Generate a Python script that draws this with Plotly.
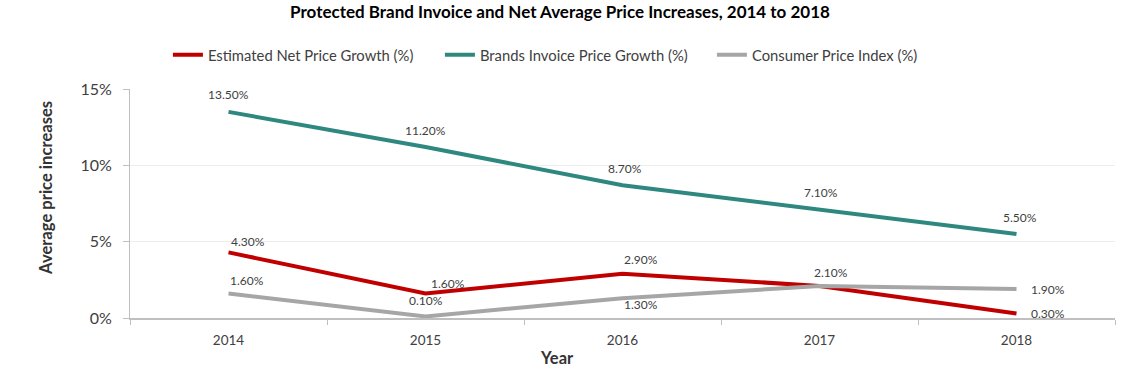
import plotly.graph_objects as go

years = ["2014", "2015", "2016", "2017", "2018"]
net_price = [4.3, 1.6, 2.9, 2.1, 0.3]
invoice_price = [13.5, 11.2, 8.7, 7.1, 5.5]
cpi = [1.6, 0.1, 1.3, 2.1, 1.9]
y_ticks = [0, 5, 10, 15]
y_tick_labels = ["0%", "5%", "10%", "15%"]

FONT = "Lato"
TXT = "#404040"

series = [
    dict(name="Estimated Net Price Growth (%)", y=net_price, color="#C00000",
         shifts=[(19, 11), (22, 10), (18, 14), (11, 13), (31, 0)],
         show=[True, True, True, True, True]),
    dict(name="Brands Invoice Price Growth (%)", y=invoice_price, color="#2E8880",
         shifts=[(0, 17), (0, 17), (2, 17), (1, 17), (3, 17)],
         show=[True, True, True, True, True]),
    dict(name="Consumer Price Index (%)", y=cpi, color="#A6A6A6",
         shifts=[(18, 13), (0, 16), (18, -6), (11, 13), (31, -1)],
         show=[True, True, True, False, True]),
]

fig = go.Figure()
annotations = []
for s in series:
    fig.add_trace(go.Scatter(x=years, y=s["y"], mode="lines", name=s["name"],
                             line=dict(color=s["color"], width=4),
                             hoverinfo="skip"))
    for i, (yv, (dx, dy), sh) in enumerate(zip(s["y"], s["shifts"], s["show"])):
        if not sh:
            continue
        annotations.append(dict(x=i, y=yv, xref="x", yref="y",
                                text=f"{yv:.2f}%", showarrow=False,
                                xshift=dx, yshift=dy,
                                font=dict(family=FONT, size=12, color=TXT)))

annotations.append(dict(text="<b>Average price increases</b>", xref="paper", yref="paper",
                        x=-0.0853, y=0.568, xanchor="center", yanchor="middle",
                        textangle=-90, showarrow=False,
                        font=dict(family=FONT, size=16.6, color="#333333")))
annotations.append(dict(text="<b>Year</b>", xref="paper", yref="paper",
                        x=0.4335, y=-0.1747, xanchor="center", yanchor="middle",
                        showarrow=False,
                        font=dict(family=FONT, size=16.5, color="#333333")))

fig.update_layout(
    width=1132, height=373,
    margin=dict(l=130, r=17, t=89, b=55, autoexpand=False),
    paper_bgcolor="white", plot_bgcolor="white",
    title=dict(text="<b>Protected Brand Invoice and Net Average Price Increases, 2014 to 2018</b>",
               x=560 / 1132, xref="container", xanchor="center", y=1 - 12 / 373, yanchor="middle",
               font=dict(family=FONT, size=17, color="black")),
    legend=dict(orientation="h", x=0.0385, xanchor="left", y=1.148, yanchor="middle",
                font=dict(family=FONT, size=14.8, color=TXT),
                entrywidth=227, entrywidthmode="pixels", itemwidth=30,
                bgcolor="rgba(0,0,0,0)"),
    font=dict(family=FONT, color=TXT),
    annotations=annotations,
    showlegend=True,
)
fig.update_xaxes(type="category", range=[-0.5, 4.5], tickson="boundaries",
                 ticks="outside", ticklen=5, tickcolor="#BFBFBF",
                 showline=True, linecolor="#BFBFBF", linewidth=1.5,
                 showgrid=False, zeroline=False, ticklabelstandoff=9,
                 tickfont=dict(family=FONT, size=13.5, color=TXT))
fig.update_yaxes(range=[0, 15], tickvals=y_ticks, ticktext=y_tick_labels,
                 ticks="outside", ticklen=6, tickcolor="#BFBFBF",
                 showline=True, linecolor="#BFBFBF", linewidth=1,
                 showgrid=True, gridcolor="#EDEDED", gridwidth=1,
                 zeroline=False, ticklabelstandoff=8,
                 tickfont=dict(family=FONT, size=16, color=TXT))

fig.write_html("out.html", config={"displayModeBar": False},
               post_script="document.body.style.margin='0';")
